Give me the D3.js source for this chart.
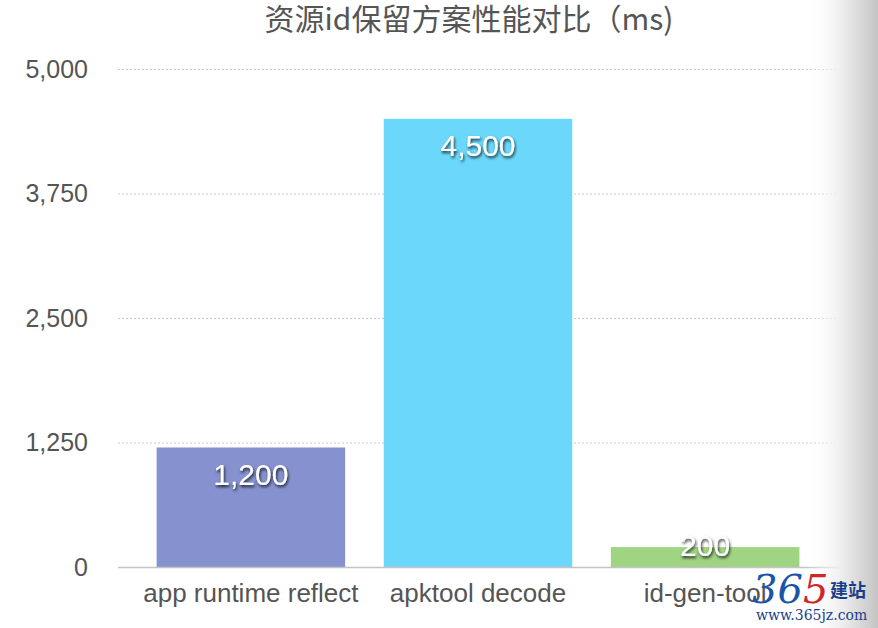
<!DOCTYPE html>
<html><head><meta charset="utf-8">
<script src="https://cdn.jsdelivr.net/npm/d3@7"></script>
<style>
html,body{margin:0;padding:0;background:#fff;}
svg{display:block;}
</style></head>
<body>
<svg id="c" width="878" height="628"></svg>
<script>
const categories = ["app runtime reflect", "apktool decode", "id-gen-tool"];
const values = [1200, 4500, 200];
const colors = ["#8592cf", "#6bd8fb", "#9fd483"];
const yTicks = [0, 1250, 2500, 3750, 5000];
const title = "资源id保留方案性能对比（ms)";

const svg = d3.select("#c");
const W = 878, H = 628;
const font = "'Helvetica Neue', 'Liberation Sans', Arial, 'Noto Sans CJK SC', sans-serif";

const defs = svg.append("defs");
const grad = defs.append("linearGradient").attr("id","rg").attr("x1","0").attr("x2","1").attr("y1","0").attr("y2","0");
grad.append("stop").attr("offset","0").attr("stop-color","#ffffff").attr("stop-opacity",0);
grad.append("stop").attr("offset","0.5").attr("stop-color","#eeeeee").attr("stop-opacity",1);
grad.append("stop").attr("offset","1").attr("stop-color","#c4c4c4").attr("stop-opacity",1);
const f = defs.append("filter").attr("id","sh").attr("x","-20%").attr("y","-40%").attr("width","140%").attr("height","180%");
f.append("feDropShadow").attr("dx",1).attr("dy",2).attr("stdDeviation",1.5).attr("flood-color","#000").attr("flood-opacity",0.8);

const x = d3.scaleBand().domain(categories).range([118, 838]).paddingInner(0.17).paddingOuter(0.17);
const y = d3.scaleLinear().domain([0, 5000]).range([567, 69]);

// title
svg.append("text").attr("x", 469).attr("y", 30).attr("text-anchor","middle")
  .attr("font-family", "'Noto Sans CJK SC', sans-serif").attr("font-size", 30)
  .attr("fill", "#555").text(title);

// grid
const yAxis = svg.append("g").attr("transform","translate(118,0)")
  .call(d3.axisLeft(y).tickValues(yTicks).tickSize(-720).tickFormat(d3.format(",")));
yAxis.select(".domain").remove();
yAxis.selectAll(".tick line").attr("stroke","#c8c8c8").attr("stroke-dasharray","2,2")
  .attr("stroke-width",1).filter(d => d === 0).remove();
yAxis.selectAll(".tick text").attr("x",-30).attr("fill","#555")
  .attr("font-family", font).attr("font-size", 25);

// bars
svg.append("g").selectAll("rect").data(values).join("rect")
  .attr("x", (d,i) => x(categories[i])).attr("width", x.bandwidth())
  .attr("y", d => y(d)).attr("height", d => y(0) - y(d))
  .attr("fill", (d,i) => colors[i]);

// baseline
svg.append("line").attr("x1",118).attr("x2",840).attr("y1",y(0)+0.5).attr("y2",y(0)+0.5)
  .attr("stroke","#c4c4c4").attr("stroke-width",1.5);

// x labels
const xAxis = svg.append("g").attr("transform",`translate(0,${y(0)})`)
  .call(d3.axisBottom(x).tickSize(0).tickPadding(17));
xAxis.select(".domain").remove();
xAxis.selectAll(".tick text").attr("fill","#555").attr("font-family", font).attr("font-size", 26);

// value labels
svg.append("g").selectAll("text").data(values).join("text")
  .attr("x", (d,i) => x(categories[i]) + x.bandwidth()/2)
  .attr("y", d => Math.min(y(d) + 27, y(0) - 22))
  .attr("dy","0.35em").attr("text-anchor","middle")
  .attr("font-family", font).attr("font-size", 30).attr("fill","#fff")
  .attr("filter","url(#sh)").text(d => d3.format(",")(d));

// right shading
svg.append("rect").attr("x", 805).attr("y", 0).attr("width", 73).attr("height", H).attr("fill","url(#rg)");

// watermark
const wm = svg.append("g");
const t365 = wm.append("text").attr("x", 752).attr("y", 603).attr("font-family","'DejaVu Serif', serif")
  .attr("font-style","italic").attr("font-size", 40);
t365.append("tspan").attr("fill","#1a55a8").text("36");
t365.append("tspan").attr("fill","#d0262a").text("5");
wm.append("text").attr("x", 830).attr("y", 597).attr("font-family","'Noto Sans CJK SC', sans-serif")
  .attr("font-weight","bold").attr("font-size", 18).attr("fill","#1a3f8a").text("建站");
wm.append("text").attr("x", 756).attr("y", 620).attr("font-family","'DejaVu Serif', serif")
  .attr("font-size", 14).attr("fill","#1a3f8a").text("www.365jz.com");
</script>
</body></html>
